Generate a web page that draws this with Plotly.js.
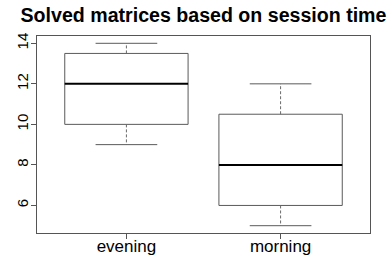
<!DOCTYPE html>
<html>
<head>
<meta charset="utf-8">
<script src="https://cdn.plot.ly/plotly-3.0.1.min.js"></script>
<style>html,body{margin:0;padding:0;background:#fff;}#chart{width:392px;height:257px;}</style>
</head>
<body>
<div id="chart"></div>
<script>
var categories = ["evening", "morning"];
var whiskerLow = [9, 5];
var q1 = [10, 6];
var medians = [12, 8];
var q3 = [13.5, 10.5];
var whiskerHigh = [14, 12];
var yTicks = [6, 8, 10, 12, 14];

var halfBox = 0.4, halfCap = 0.2;
var traces = [];
categories.forEach(function (c, i) {
  var p = i + 1;
  traces.push({
    type: "scatter", mode: "lines", hoverinfo: "skip",
    x: [p - halfBox, p + halfBox, p + halfBox, p - halfBox, p - halfBox],
    y: [q1[i], q1[i], q3[i], q3[i], q1[i]],
    line: { color: "#5a5a5a", width: 1 }
  });
  traces.push({
    type: "scatter", mode: "lines", hoverinfo: "skip",
    x: [p - halfBox, p + halfBox], y: [medians[i], medians[i]],
    line: { color: "#000", width: 2 }
  });
  traces.push({
    type: "scatter", mode: "lines", hoverinfo: "skip",
    x: [p, p, null, p, p],
    y: [q3[i], whiskerHigh[i], null, q1[i], whiskerLow[i]],
    line: { color: "#6a6a6a", width: 1, dash: "3px,2px" }
  });
  traces.push({
    type: "scatter", mode: "lines", hoverinfo: "skip",
    x: [p - halfCap, p + halfCap, null, p - halfCap, p + halfCap],
    y: [whiskerHigh[i], whiskerHigh[i], null, whiskerLow[i], whiskerLow[i]],
    line: { color: "#5a5a5a", width: 1 }
  });
});

var layout = {
  width: 392, height: 257,
  margin: { l: 37, r: 22, t: 36, b: 24, pad: 0 },
  paper_bgcolor: "#fff", plot_bgcolor: "#fff",
  showlegend: false,
  font: { family: "Liberation Sans, Arial, sans-serif", color: "#000" },
  title: {
    text: "<b>Solved matrices based on session time</b>",
    font: { size: 19.6, family: "Liberation Sans, Arial, sans-serif", color: "#000" },
    x: 0.5, xref: "paper", xanchor: "center",
    y: 0.966, yref: "container", yanchor: "top", pad: { t: 0 }
  },
  xaxis: {
    range: [0.42, 2.58], tickvals: [1, 2], ticktext: categories,
    ticks: "outside", ticklen: 5, tickcolor: "#555", tickwidth: 1,
    ticklabelstandoff: -7,
    showgrid: false, zeroline: false,
    showline: true, mirror: true, linecolor: "#555", linewidth: 1,
    tickfont: { size: 17, color: "#000" }
  },
  yaxis: {
    range: [4.64, 14.36], tickvals: yTicks, ticktext: yTicks.map(String),
    ticks: "outside", ticklen: 5, tickcolor: "#555", tickwidth: 1,
    tickangle: -90, ticklabelstandoff: -3,
    showgrid: false, zeroline: false,
    showline: true, mirror: true, linecolor: "#555", linewidth: 1,
    tickfont: { size: 15, color: "#000" }
  }
};

Plotly.newPlot("chart", traces, layout, { staticPlot: true, displayModeBar: false });
</script>
</body>
</html>
